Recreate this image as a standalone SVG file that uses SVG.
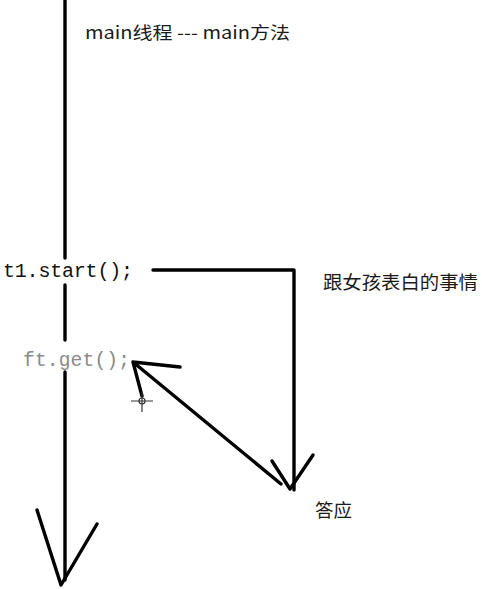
<svg xmlns="http://www.w3.org/2000/svg" width="482" height="589" viewBox="0 0 482 589">
<style>
.ln{fill:none;stroke:#000;stroke-width:3.4;stroke-linecap:round;stroke-linejoin:round}
.cjk{font-family:"Noto Sans CJK SC","Microsoft YaHei","Noto Sans",sans-serif;fill:#1a1a1a}
.mono{font-family:"Liberation Mono","DejaVu Sans Mono",monospace}
</style>
<rect width="482" height="589" fill="#fff"/>
<g id="connectors">
<path class="ln" d="M65,0 V258 M65,285 V340 M65,372 V580"/>
<path class="ln" d="M37,510 L61,585 L97,524"/>
<path class="ln" d="M153,270 H294 V490"/>
<path class="ln" d="M272,461 L290,489 L313,455"/>
<path class="ln" d="M281,484 L133,362 L180,367 M133,362 L142,396"/>
</g>
<g id="main-label"><text class="cjk" x="85" y="39" font-size="17.5" textLength="205" lengthAdjust="spacingAndGlyphs">main线程 --- main方法</text></g>
<g id="t1-start"><text class="mono" x="3" y="277" font-size="20" fill="#111" textLength="130">t1.start();</text></g>
<g id="ft-get"><text class="mono" x="23" y="366" font-size="19.6" fill="#8a8a8a" textLength="107">ft.get();</text></g>
<g id="task-label"><text class="cjk" x="323" y="289" font-size="18.5" textLength="155" lengthAdjust="spacingAndGlyphs">跟女孩表白的事情</text></g>
<g id="answer-label"><text class="cjk" x="315" y="517" font-size="18.5">答应</text></g>
<g id="cursor" stroke="#333" stroke-width="1.2" fill="none">
<circle cx="142" cy="401" r="3"/>
<path d="M131,401 H153 M142,392 V412"/>
</g>
</svg>
